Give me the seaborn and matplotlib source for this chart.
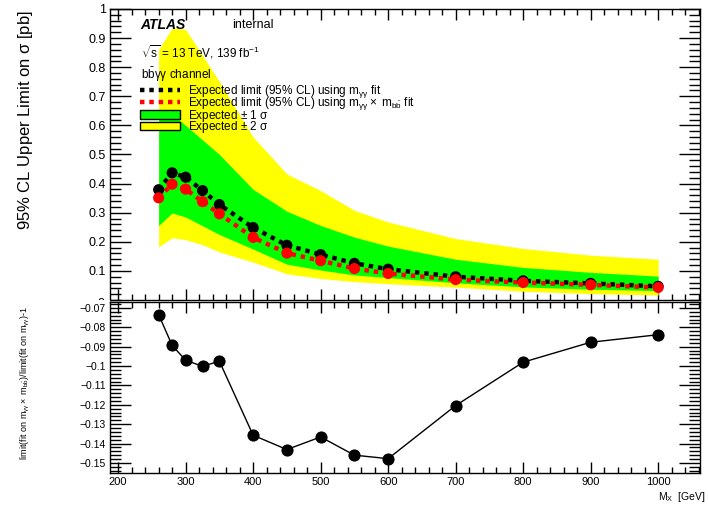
#!/usr/bin/env python3
"""Expected limits bbyy (mgg fit vs mgg x mbb fit) + ratio panel."""
import matplotlib
matplotlib.use("Agg")
import matplotlib.pyplot as plt
from matplotlib.lines import Line2D
from matplotlib.patches import Patch, Rectangle
from matplotlib.ticker import MultipleLocator
import pandas as pd
import seaborn as sns

# --- data ------------------------------------------------------------
mass = [260, 280, 300, 325, 350, 400, 450, 500, 550, 600, 700, 800, 900, 1000]
exp_mgg = [0.379, 0.437, 0.422, 0.376, 0.328, 0.249, 0.188, 0.156, 0.126,
           0.106, 0.080, 0.066, 0.057, 0.047]
exp_mggmbb = [0.351, 0.398, 0.381, 0.338, 0.296, 0.215, 0.161, 0.135, 0.108,
              0.091, 0.070, 0.060, 0.052, 0.043]
band2_up = [0.86, 0.935, 0.93, 0.84, 0.75, 0.56, 0.433, 0.376, 0.308, 0.268,
            0.211, 0.177, 0.154, 0.140]
band1_up = [0.64, 0.64, 0.60, 0.55, 0.50, 0.38, 0.305, 0.256, 0.216, 0.185,
            0.140, 0.112, 0.095, 0.082]
band1_dn = [0.256, 0.299, 0.285, 0.255, 0.225, 0.175, 0.123, 0.103, 0.086,
            0.077, 0.059, 0.045, 0.037, 0.032]
band2_dn = [0.182, 0.214, 0.207, 0.19, 0.165, 0.13, 0.09, 0.074, 0.063,
            0.056, 0.044, 0.030, 0.022, 0.017]
ratio = [-0.0734, -0.0893, -0.0970, -0.1001, -0.0975, -0.1357, -0.1431,
         -0.1366, -0.1460, -0.1478, -0.1204, -0.0980, -0.0877, -0.0838]
top_yticks = [0.1, 0.2, 0.3, 0.4, 0.5, 0.6, 0.7, 0.8, 0.9, 1.0]
top_yticklabels = ["0.1", "0.2", "0.3", "0.4", "0.5", "0.6", "0.7", "0.8",
                   "0.9", "1"]

df = pd.DataFrame({"mass": mass, "mgg": exp_mgg, "mggmbb": exp_mggmbb,
                   "b2u": band2_up, "b1u": band1_up, "b1d": band1_dn,
                   "b2d": band2_dn, "ratio": ratio})

sns.set_theme(style="ticks")
plt.rcParams.update({
    "font.family": ["Liberation Sans", "DejaVu Sans"],
    "mathtext.fontset": "custom",
    "mathtext.rm": "Liberation Sans",
    "mathtext.it": "Liberation Sans:italic",
    "mathtext.bf": "Liberation Sans:bold",
    "mathtext.default": "regular",
    "text.color": "black", "axes.labelcolor": "black",
    "axes.edgecolor": "black", "xtick.color": "black", "ytick.color": "black",
    "axes.linewidth": 1.0,
    "xtick.direction": "in", "ytick.direction": "in",
    "xtick.top": True, "ytick.right": True,
})

GREEN = "#00ff00"
YELLOW = "#ffff00"
DASH = (1.0, 1.1)

fig = plt.figure(figsize=(7.08, 5.07), dpi=100)
ax = fig.add_axes([0.1554, 0.4083, 0.8333, 0.574])
axr = fig.add_axes([0.1554, 0.0671, 0.8333, 0.3373])
axr.set_zorder(3)
axr.set_facecolor("white")

# upper pad "0" label sits half under the lower pad, like in ROOT
fig.text(0.1483, 0.4006, "0", ha="right", va="center", fontsize=9, zorder=2)
fig.add_artist(Rectangle((0, 0), 0.156, 0.4083, transform=fig.transFigure,
                         facecolor="white", edgecolor="none", zorder=2.5))

# --- top panel -------------------------------------------------------
ax.fill_between(df["mass"], df["b2d"], df["b2u"], color=YELLOW, lw=0, zorder=1)
ax.fill_between(df["mass"], df["b1d"], df["b1u"], color=GREEN, lw=0, zorder=2)
sns.lineplot(data=df, x="mass", y="mgg", ax=ax, color="black", lw=3.2, zorder=3)
ax.lines[-1].set_dashes(DASH)
sns.lineplot(data=df, x="mass", y="mggmbb", ax=ax, color="red", lw=3.2, zorder=4)
ax.lines[-1].set_dashes(DASH)
sns.scatterplot(data=df, x="mass", y="mgg", ax=ax, color="black", s=64,
                edgecolor="none", zorder=5)
sns.scatterplot(data=df, x="mass", y="mggmbb", ax=ax, color="red", s=64,
                edgecolor="none", zorder=6)

ax.set_xlim(188, 1062)
ax.set_ylim(0, 1)
ax.xaxis.set_major_locator(MultipleLocator(100))
ax.xaxis.set_minor_locator(MultipleLocator(20))
ax.yaxis.set_minor_locator(MultipleLocator(0.02))
ax.set_yticks(top_yticks)
ax.set_yticklabels(top_yticklabels)
ax.tick_params(axis="y", which="major", length=15, width=1, labelsize=9, pad=3)
ax.tick_params(axis="y", which="minor", length=8, width=1)
ax.tick_params(axis="x", which="major", length=8, width=1, labelbottom=False)
ax.tick_params(axis="x", which="minor", length=4, width=1)
ax.set_xlabel("")
ax.set_ylabel("")

ax.text(0.052, 0.945, "ATLAS", transform=ax.transAxes, fontsize=10,
        fontweight="bold", fontstyle="italic", va="center")
ax.text(0.207, 0.945, "internal", transform=ax.transAxes, fontsize=9,
        va="center")
ax.text(0.052, 0.85, r"$\sqrt{s}$ = 13 TeV, 139 fb$^{-1}$",
        transform=ax.transAxes, fontsize=8.5, va="center")
ax.text(0.052, 0.772, r"b$\bar{b}\gamma\gamma$ channel",
        transform=ax.transAxes, fontsize=8.5, va="center")

handles = [
    Line2D([], [], color="black", lw=3.2, dashes=DASH),
    Line2D([], [], color="red", lw=3.2, dashes=DASH),
    Patch(facecolor=GREEN, edgecolor="black", lw=1),
    Patch(facecolor=YELLOW, edgecolor="black", lw=1),
]
labels = [
    r"Expected limit (95% CL) using m$_{\gamma\gamma}$ fit",
    r"Expected limit (95% CL) using m$_{\gamma\gamma}\times$ m$_{b\bar{b}}$ fit",
    r"Expected $\pm$ 1 $\sigma$",
    r"Expected $\pm$ 2 $\sigma$",
]
ax.legend(handles, labels, loc="upper left", bbox_to_anchor=(0.051, 0.745),
          frameon=False, fontsize=8.5, handlelength=3.4, handleheight=0.7,
          handletextpad=0.65, labelspacing=-0.4, borderpad=0, borderaxespad=0)

fig.text(0.036, 0.763, r"95% CL Upper Limit on $\sigma$ [pb]", rotation=90,
         ha="center", va="center", fontsize=12)

# --- ratio panel -----------------------------------------------------
sns.lineplot(data=df, x="mass", y="ratio", ax=axr, color="black", lw=1.0,
             marker="o", markersize=8, markeredgecolor="black")
axr.set_xlim(188, 1062)
axr.set_ylim(-0.1552, -0.0669)
axr.xaxis.set_major_locator(MultipleLocator(100))
axr.xaxis.set_minor_locator(MultipleLocator(20))
axr.yaxis.set_major_locator(MultipleLocator(0.01))
axr.yaxis.set_minor_locator(MultipleLocator(0.002))
axr.yaxis.set_major_formatter(lambda v, p: f"{v:.2f}".rstrip("0").replace("-", "\u2212"))
axr.tick_params(axis="y", which="major", length=15, width=1, labelsize=7.5, pad=3)
axr.tick_params(axis="y", which="minor", length=8, width=1)
axr.tick_params(axis="x", which="major", length=8, width=1, labelsize=8, pad=3)
axr.tick_params(axis="x", which="minor", length=4, width=1)
axr.set_xlabel("")
axr.set_ylabel("")

fig.text(0.036, 0.245,
         r"limit(fit on m$_{\gamma\gamma}\times$ m$_{b\bar{b}}$)/limit(fit on m$_{\gamma\gamma}$)-1",
         rotation=90, ha="center", va="center", fontsize=6.5)
fig.text(0.996, 0.019, r"M$_{X}$  [GeV]", ha="right", va="center",
         fontsize=7.5)

fig.savefig("out.png", dpi=100)
